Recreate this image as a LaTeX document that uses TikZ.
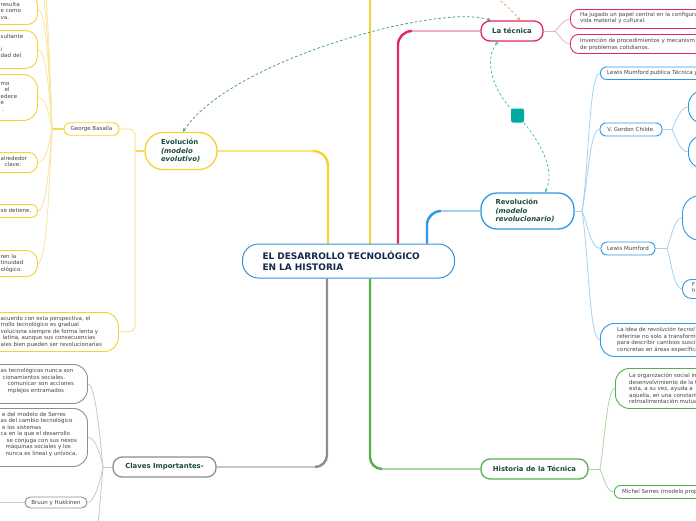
\documentclass[tikz,border=0pt]{standalone}
\usepackage{fontspec}
\setmainfont{DejaVu Sans}
\usetikzlibrary{arrows.meta}
\pgfdeclarelayer{bg}
\pgfsetlayers{bg,main}
\definecolor{yl}{HTML}{F7D12E}
\definecolor{ylL}{HTML}{FBE49A}
\definecolor{crim}{HTML}{E3285F}
\definecolor{pinkL}{HTML}{F4AEC5}
\definecolor{bl}{HTML}{2D98E6}
\definecolor{blL}{HTML}{A3D2F4}
\definecolor{gr}{HTML}{8E8E8E}
\definecolor{grL}{HTML}{C8C8C8}
\definecolor{gn}{HTML}{55B04C}
\definecolor{gnL}{HTML}{AAD8A2}
\definecolor{tealsq}{HTML}{00A9A6}
\definecolor{tealdsh}{HTML}{48C0BD}
\definecolor{grdsh}{HTML}{4FA276}
\definecolor{ordsh}{HTML}{F5A35C}
\definecolor{dkgreen}{HTML}{1C4A3A}
\definecolor{ctitle}{HTML}{15284B}
\definecolor{cenb}{HTML}{3A90D8}
\definecolor{leaftxt}{HTML}{444444}
\begin{document}
\begin{tikzpicture}[x=1pt,y=1pt,
  bx/.style={draw, fill=white, inner sep=0pt, anchor=north west, line width=0.9pt},
  lf/.style={inner sep=0pt, anchor=north west, align=left, text=leaftxt, font=\fontsize{5.5}{6.5}\selectfont, execute at begin node=\strut},
  sl/.style={draw, fill=white, inner sep=0pt, line width=0.9pt, text=leaftxt, font=\fontsize{5.5}{6.5}\selectfont},
  mn/.style={draw, fill=white, inner sep=0pt, line width=1.3pt, text=dkgreen, font=\bfseries\fontsize{6.9}{8.5}\selectfont, align=left},
  fan/.style={line width=0.8pt},
  trunk/.style={line width=2.4pt},
  dsh/.style={dash pattern=on 2.6pt off 2.2pt, line width=0.8pt},
  >={Stealth[length=3.6pt,width=3.4pt]}
]
\useasboundingbox (0,0) rectangle (696,-520);
\clip (0,0) rectangle (696,-520);

% central
\node[draw=cenb, fill=white, line width=1pt, rounded corners=16, minimum width=212, minimum height=34, inner sep=0pt, text width=172, align=left, font=\bfseries\fontsize{9}{10.5}\selectfont, text=ctitle] (cen) at (348.5,-261) {EL DESARROLLO TECNOLÓGICO\\EN LA HISTORIA};

% main topics
\node[mn, draw=yl, rounded corners=18, minimum width=72, minimum height=37, text width=40] (ev) at (181,-151) {Evolución\\\textit{(modelo}\\\textit{evolutivo)}};
\node[mn, draw=bl, rounded corners=16, minimum width=93, minimum height=36, text width=64] (rev) at (527.5,-211) {Revolución\\\textit{(modelo}\\\textit{revolucionario)}};
\node[mn, draw=crim, rounded corners=9, minimum width=62, minimum height=20, align=center] (lt) at (512,-31) {La técnica};
\node[mn, draw=gr, rounded corners=9, minimum width=103, minimum height=20, align=center] (cl) at (164.5,-467) {Claves Importantes-};
\node[mn, draw=gn, rounded corners=9, minimum width=107, minimum height=20, align=center] (ht) at (534.5,-469) {Historia de la Técnica};

% yellow leaves
\node[bx, draw=yl, minimum width=77, minimum height=30, rounded corners=10] (g1) at (-40,6) {};
\node[lf] (g1t) at (0.5,-2) {resulta\\e como\\va.};
\node[bx, draw=yl, minimum width=77, minimum height=38, rounded corners=12] (g2) at (-40,-30) {};
\node[lf] (g2t) at (0.5,-33.7) {sultante\\\mbox{}\\i\\dad del};
\node[bx, draw=yl, minimum width=77, minimum height=46, rounded corners=14] (g3) at (-40,-74) {};
\node[lf] (g3t) at (0.5,-78.5) {\mbox{}\\mo\\\hspace*{4pt}el\\edece\\e\\\hspace*{1.5pt}.};
\node[bx, draw=yl, minimum width=77, minimum height=20, rounded corners=9] (g4) at (-40,-152) {};
\node[lf] (g4t) at (0.5,-156) {alrededor\\\hspace*{4pt}clave:};
\node[bx, draw=yl, minimum width=77, minimum height=13, rounded corners=6] (g5) at (-40,-204) {};
\node[lf] (g5t) at (0.5,-207.5) {se detiene.};
\node[bx, draw=yl, minimum width=77, minimum height=26, rounded corners=11] (g6) at (-40,-250) {};
\node[lf] (g6t) at (0.5,-254) {ren la\\tinuidad\\ológico.};
\node[sl, draw=yl, minimum width=55, minimum height=12.5, rounded corners=6] (gb) at (91.5,-129) {George Basalla};
\node[bx, draw=yl, minimum width=158, minimum height=39, rounded corners=14] (da) at (-40,-312) {};
\node[lf] (dat) at (0.5,-316) {acuerdo con esta perspectiva, el\\rrollo tecnológico es gradual\\voluciona siempre de forma lenta y\\\hspace*{2pt}latina, aunque sus consecuencias\\ales bien pueden ser revolucionarias};

% grey leaves
\node[bx, draw=gr, minimum width=127, minimum height=39, rounded corners=14] (c1) at (-40,-364) {};
\node[lf] (c1t) at (0.5,-368) {as tecnológicos nunca son\\\hspace*{2pt}cionamientos sociales.\\\hspace*{7pt}comunicar son acciones\\\hspace*{7pt}mplejos entramados};
\node[bx, draw=gr, minimum width=127, minimum height=58, rounded corners=14] (c2) at (-40,-408) {};
\node[lf] (c2t) at (0.5,-412) {\hspace*{1.5pt}e del modelo de Serres\\as del cambio tecnológico\\\hspace*{1.5pt}e los sistemas\\ca en la que el desarrollo\\\hspace*{6pt}se conjuga con sus nexos\\\hspace*{5pt}máquinas sociales y los\\\hspace*{5pt}nunca es lineal y unívoca,};
\node[sl, draw=gr, minimum width=62, minimum height=11, rounded corners=5.5] (bh) at (56,-502.5) {Bruun y Hukkinen};

% pink leaves
\node[bx, draw=crim, minimum width=200, minimum height=19, rounded corners=8] (lt1) at (570,-9) {};
\node[lf] (lt1t) at (580,-12) {Ha jugado un papel central en la configura\\vida material y cultural.};
\node[bx, draw=crim, minimum width=200, minimum height=19, rounded corners=8] (lt2) at (570,-34) {};
\node[lf] (lt2t) at (580,-38) {Invención de procedimientos y mecanism\\de problemas cotidianos.};

% blue leaves
\node[bx, draw=bl, minimum width=150, minimum height=12.5, rounded corners=6] (lmp) at (600,-66.5) {};
\node[lf] (lmpt) at (607,-70) {Lewis Mumford publica \textit{Técnica y}};
\node[sl, draw=bl, minimum width=62, minimum height=13, rounded corners=6] (vgc) at (631,-129.5) {V. Gordon Childe.};
\node[bx, draw=bl, minimum width=80, minimum height=33, rounded corners=15] (vA) at (688,-90) {};
\node[bx, draw=bl, minimum width=80, minimum height=33, rounded corners=15] (vB) at (688,-135) {};
\node[sl, draw=bl, minimum width=54, minimum height=13, rounded corners=6] (lm) at (628,-248.5) {Lewis Mumford};
\node[bx, draw=bl, minimum width=80, minimum height=45, rounded corners=18] (lmA) at (682,-195) {};
\node[bx, draw=bl, minimum width=80, minimum height=19, rounded corners=9] (lmB) at (682,-279) {};
\node[lf] (lmBt) at (692,-282) {F\\h};
\node[bx, draw=bl, minimum width=150, minimum height=33, rounded corners=14] (li) at (600,-323) {};
\node[lf] (lit) at (617,-327) {La idea de \textit{revolución tecnol}\\referirse no solo a transform\\para describir cambios suscit\\concretas en áreas específica};

% green leaves
\node[bx, draw=gn, minimum width=150, minimum height=40, rounded corners=14] (lo) at (615,-368) {};
\node[lf] (lot) at (629,-373) {La organización social in\\desenvolvimiento de la t\\esta, a su vez, ayuda a\\aquella, en una constant\\retroalimentación mutua};
\node[bx, draw=gn, minimum width=150, minimum height=13, rounded corners=6] (ms) at (614,-485) {};
\node[lf] (mst) at (622,-488.5) {Michel Serres (modelo prop};

% teal marker
\node[fill=tealsq, minimum width=13, minimum height=14, rounded corners=2, inner sep=0pt] (sq) at (517.5,-115.5) {};

% junction coordinates
\coordinate (gbj) at (52,-129);
\coordinate (gx1) at (37,25);
\coordinate (gx2) at (37,55);
\coordinate (clj) at (103,-467);
\coordinate (cx) at (87,-575);
\coordinate (bhx) at (-30,-502.5);
\coordinate (rj) at (582,-211);
\coordinate (vj) at (672,-129.5);
\coordinate (lj) at (667,-248.5);
\coordinate (hj) at (600,-469);
\coordinate (tj) at (555,-31);
\coordinate (ytop) at (370,5);
\coordinate (ostart) at (478,17);

\begin{pgfonlayer}{bg}
\fill[white] (0,0) rectangle (696,-520);
% trunks from the centre
\draw[trunk, yl] (cen.north -| 328,0) -- (328,-166) to[out=90,in=0] (313,-151);
\draw[yl!60!white, line width=1.8pt] (313,-151) -- (ev.east);
\draw[trunk, yl] (cen.north -| 370,0) -- (ytop);
\draw[trunk, crim] (cen.north -| 398,0) -- (398,-45) to[out=90,in=180] (412,-31);
\draw[pinkL, line width=1.6pt] (412,-31) -- (lt.west);
\draw[trunk, bl] (cen.north -| 427,0) -- (427,-225) to[out=90,in=180] (441,-211);
\draw[blL, line width=1.6pt] (441,-211) -- (rev.west);
\draw[trunk, gr] (cen.south -| 327,0) -- (327,-455) to[out=-90,in=0] (315,-467);
\draw[grL, line width=1.2pt] (315,-467) -- (cl.east);
\draw[trunk, gn] (cen.south -| 370,0) -- (370,-457) to[out=-90,in=180] (382,-469);
\draw[gnL, line width=1.6pt] (382,-469) -- (ht.west);

% Evolucion branch
\draw[yl!80!white, line width=1.6pt] (ev.west) -- (135,-151);
\draw[ylL, line width=1pt, rounded corners=6] (gb.east) -- (135,-129) -- (135,-331.5) -- (da.east);
\draw[yl!80!white, line width=1.4pt] (gb.west) -- (gbj);
\draw[fan, ylL] (gbj) .. controls +(-3,75) and +(8,0) .. (gx1);
\draw[fan, ylL] (gbj) .. controls +(-3,95) and +(8,0) .. (gx2);
\draw[fan, ylL] (gbj) .. controls +(-3,60) and +(8,0) .. (g1.east);
\draw[fan, ylL] (gbj) .. controls +(-3,40) and +(8,0) .. (g2.east);
\draw[fan, ylL] (gbj) .. controls +(-3,16) and +(8,0) .. (g3.east);
\draw[fan, ylL] (gbj) .. controls +(-3,-16) and +(8,0) .. (g4.east);
\draw[fan, ylL] (gbj) .. controls +(-3,-40) and +(8,0) .. (g5.east);
\draw[fan, ylL] (gbj) .. controls +(-3,-67) and +(8,0) .. (g6.east);

% Claves branch
\draw[grL, line width=1pt] (cl.west) -- (clj);
\draw[fan, grL] (clj) .. controls +(-4,40) and +(7,0) .. (c1.east);
\draw[fan, grL] (clj) .. controls +(-3,15) and +(7,0) .. (c2.east);
\draw[fan, grL] (clj) .. controls +(-3,-15) and +(7,0) .. (bh.east);
\draw[fan, grL] (clj) .. controls +(-4,-50) and +(7,0) .. (cx);
\draw[fan, grL] (bh.west) -- (bhx);

% La tecnica branch
\draw[pinkL, line width=1pt] (lt.east) -- (tj);
\draw[fan, pinkL] (tj) .. controls +(5,5) and +(-6,0) .. (lt1.west);
\draw[fan, pinkL] (tj) .. controls +(5,-5) and +(-6,0) .. (lt2.west);

% Revolucion branch
\draw[blL, line width=1pt] (rev.east) -- (rj);
\draw[fan, blL] (rj) .. controls +(7,45) and +(-11,0) .. (lmp.west);
\draw[fan, blL] (rj) .. controls +(6,28) and +(-10,0) .. (vgc.west);
\draw[fan, blL] (rj) .. controls +(6,-14) and +(-10,0) .. (lm.west);
\draw[fan, blL] (rj) .. controls +(7,-45) and +(-11,0) .. (li.west);
\draw[blL, line width=0.8pt] (vgc.east) -- (vj);
\draw[fan, blL] (vj) .. controls +(4,8) and +(-8,0) .. (vA.west);
\draw[fan, blL] (vj) .. controls +(4,-8) and +(-8,0) .. (vB.west);
\draw[blL, line width=0.8pt] (lm.east) -- (lj);
\draw[fan, blL] (lj) .. controls +(4,10) and +(-8,0) .. (lmA.west);
\draw[fan, blL] (lj) .. controls +(4,-12) and +(-8,0) .. (lmB.west);

% Historia branch
\draw[gnL, line width=1pt] (ht.east) -- (hj);
\draw[fan, gnL] (hj) .. controls +(5,30) and +(-8,0) .. (lo.west);
\draw[fan, gnL] (hj) .. controls +(4,-8) and +(-8,0) .. (ms.west);

% dashed relations
\draw[dsh, grdsh, <->] (ev.north -| 183,0) .. controls (230,-60) and (440,-3) .. (lt.north -| 491,0);
\draw[dsh, ordsh, ->] (ostart) .. controls (500,0) and (512,-10) .. (lt.north -| 520,0);
\draw[dsh, tealdsh, <-] (lt.south -| 498,0) .. controls (482,-62) and (495,-95) .. (sq.center);
\draw[dsh, tealdsh, ->] (sq.center) .. controls (540,-140) and (556,-170) .. (rev.north -| 545,0);
\end{pgfonlayer}
\end{tikzpicture}
\end{document}
